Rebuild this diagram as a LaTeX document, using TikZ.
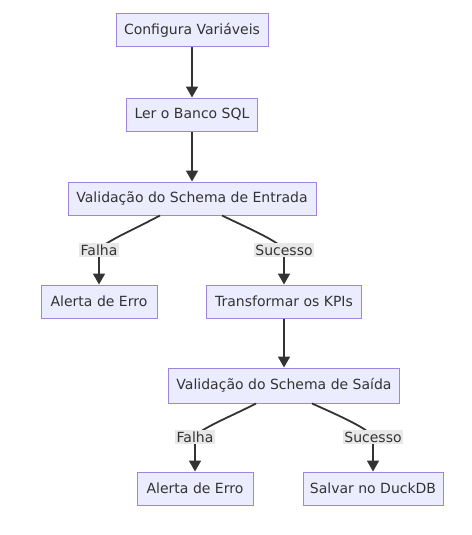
\documentclass[tikz,border=0pt]{standalone}
\usepackage{fontspec}
\setmainfont{DejaVu Sans}
\usepackage{tikz}
\usetikzlibrary{arrows.meta}
\definecolor{BoxFill}{HTML}{ECECFF}
\definecolor{BoxLine}{HTML}{9F85DF}
\definecolor{EdgeGray}{HTML}{333333}
\definecolor{LabFill}{HTML}{E8E8E8}
\begin{document}
\begin{tikzpicture}[x=1pt, y=-1pt,
  box/.style={draw=BoxLine, fill=BoxFill, line width=1pt, font=\fontsize{14}{16}\selectfont, text=EdgeGray, minimum height=33pt, inner xsep=6pt},
  lab/.style={fill=LabFill, font=\fontsize{14}{16}\selectfont, text=EdgeGray, inner sep=1.5pt},
  arr/.style={-{Triangle[length=11pt, width=12pt]}, EdgeGray, line width=1.8pt}]
\useasboundingbox (0,0) rectangle (471,535);
\node[box, minimum width=152pt] (cfg) at (192, 30.5) {Configura Variáveis};
\node[box, minimum width=131pt] (ler) at (192, 114.5) {Ler o Banco SQL};
\node[box, minimum width=248pt] (vin) at (192, 198.5) {Validação do Schema de Entrada};
\node[box, minimum width=116pt] (err1) at (99, 301.5) {Alerta de Erro};
\node[box, minimum width=155pt] (kpi) at (284, 301.5) {Transformar os KPIs};
\node[box, minimum width=231pt, minimum height=35pt] (vout) at (284, 385.5) {Validação do Schema de Saída};
\node[box, minimum width=116pt] (err2) at (195, 488.5) {Alerta de Erro};
\node[box, minimum width=140pt] (duck) at (373, 488.5) {Salvar no DuckDB};
% label spots on the branches
\coordinate (f1) at (99, 250); \coordinate (s1) at (284, 250);
\coordinate (f2) at (195, 437); \coordinate (s2) at (373, 437);
\draw[arr] (cfg) -- (ler); \draw[arr] (ler) -- (vin); \draw[arr] (kpi) -- (vout);
\draw[arr] ([xshift=-32pt]vin.south) .. controls (135, 229) and (104, 242) .. (f1) -- (err1);
\draw[arr] ([xshift=30pt]vin.south) .. controls (250, 229) and (280, 242) .. (s1) -- (kpi);
\draw[arr] ([xshift=-28pt]vout.south) .. controls (232, 416) and (199, 429) .. (f2) -- (err2);
\draw[arr] ([xshift=28pt]vout.south) .. controls (340, 416) and (369, 429) .. (s2) -- (duck);
\node[lab] at (f1) {Falha}; \node[lab] at (s1) {Sucesso};
\node[lab] at (f2) {Falha}; \node[lab] at (s2) {Sucesso};
\end{tikzpicture}
\end{document}
